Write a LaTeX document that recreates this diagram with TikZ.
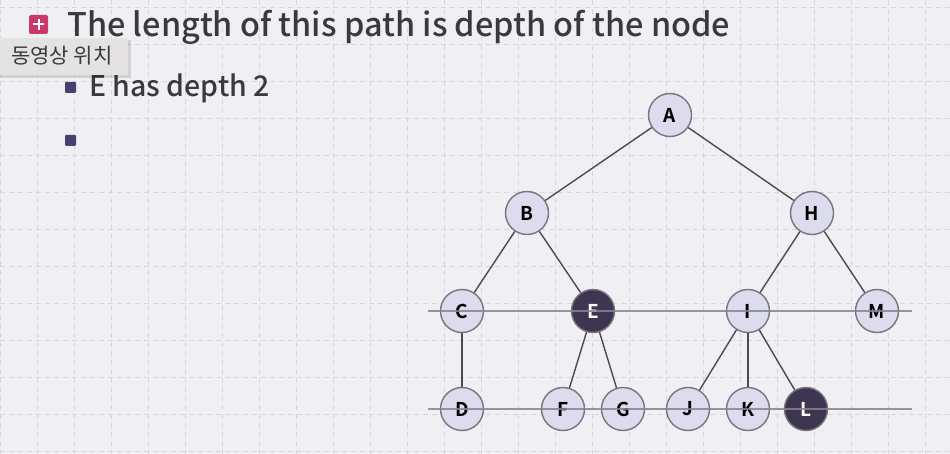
\documentclass[tikz,border=0pt]{standalone}
\usepackage{fontspec}
\setmainfont{Noto Sans CJK KR}
\newfontfamily\kor{Noto Sans CJK KR}
\newfontfamily\korb{Noto Sans CJK KR Bold}
\newfontfamily\korm{Noto Sans CJK KR Medium}
\definecolor{bg}{HTML}{F0F0F4}
\definecolor{gridc}{HTML}{D6D6DC}
\definecolor{nodefill}{HTML}{DCDCEE}
\definecolor{nodeborder}{HTML}{75757F}
\definecolor{darkfill}{HTML}{3E3550}
\definecolor{edgec}{HTML}{4A4A50}
\definecolor{levelc}{HTML}{85858C}
\definecolor{textc}{HTML}{3A3A3E}
\definecolor{bulletc}{HTML}{4A4070}
\definecolor{iconc}{HTML}{C8386A}
\definecolor{tipc}{HTML}{E4E2E2}
\begin{document}
\begin{tikzpicture}[x=1pt,y=-1pt,
  tnode/.style={circle,draw=nodeborder,line width=1.4pt,fill=nodefill,minimum size=43pt,inner sep=0pt,font=\korb\fontsize{19}{19}\selectfont,text=black},
  dnode/.style={tnode,fill=darkfill,text=white},
  edge/.style={draw=edgec,line width=1.4pt},
  level/.style={draw=levelc,line width=1.4pt,opacity=0.85},
  bulletsq/.style={fill=bulletc,rounded corners=1pt}]
\useasboundingbox (0,0) rectangle (950,454);
\fill[bg] (0,0) rectangle (950,454);
% grid
\foreach \k in {0,...,25} \draw[gridc,line width=0.9pt,dash pattern=on 5pt off 4pt] (37*\k,0) -- (37*\k,454);
\foreach \k in {0,...,12} \draw[gridc,line width=0.9pt,dash pattern=on 5pt off 4pt] (0,7+37*\k) -- (950,7+37*\k);
% title
\fill[iconc,rounded corners=2pt] (29,15) rectangle (48,34);
\draw[white,line width=2pt] (33,24.5) -- (44,24.5) (38.5,19) -- (38.5,30);
\node[anchor=base west,inner sep=0pt,text=textc,font=\korm\fontsize{32.5}{32.5}\selectfont] (title) at (67,37) {The length of this path is depth of the node};
% bullets
\fill[bulletsq] (65,82) rectangle (76,93);
\node[anchor=base west,inner sep=0pt,text=textc,font=\korm\fontsize{28.5}{28.5}\selectfont] (b1) at (89,97) {E has depth 2};
\fill[bulletsq] (65,135) rectangle (76,146);
% tooltip
\fill[black,opacity=0.12] (0,40) rectangle (131,78);
\fill[tipc] (0,38) rectangle (128,75);
\node[anchor=west,inner sep=0pt,text=textc,font=\kor\fontsize{21}{21}\selectfont] (tip) at (11,56) {동영상 위치};
% nodes
\node[tnode] (A) at (670,115) {A};
\node[tnode] (B) at (527,213) {B};
\node[tnode] (H) at (812,213) {H};
\node[tnode] (C) at (462,311) {C};
\node[dnode] (E) at (593,311) {E};
\node[tnode] (I) at (748,311) {I};
\node[tnode] (M) at (877,311) {M};
\node[tnode] (D) at (462,409) {D};
\node[tnode] (F) at (563,409) {F};
\node[tnode] (G) at (623,409) {G};
\node[tnode] (J) at (688,409) {J};
\node[tnode] (K) at (748,409) {K};
\node[dnode] (L) at (806,409) {L};
% edges
\foreach \a/\b in {A/B,A/H,B/C,B/E,H/I,H/M,C/D,E/F,E/G,I/J,I/K,I/L}
  \draw[edge] (\a) -- (\b);
% level lines
\coordinate (l1a) at (428,311); \coordinate (l1b) at (912,311);
\coordinate (l2a) at (428,409); \coordinate (l2b) at (912,409);
\draw[level] (l1a) -- (l1b);
\draw[level] (l2a) -- (l2b);
\end{tikzpicture}
\end{document}
